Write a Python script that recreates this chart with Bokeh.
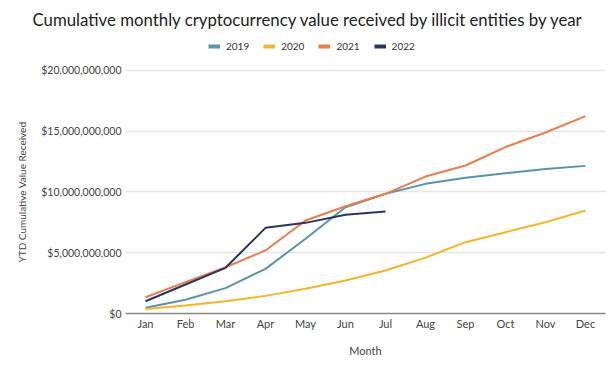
from bokeh.plotting import figure
from bokeh.models import (FactorRange, Range1d, FixedTicker, NumeralTickFormatter,
                          Legend, LegendItem, Title)
from bokeh.embed import file_html
from bokeh.resources import INLINE

months = ["Jan", "Feb", "Mar", "Apr", "May", "Jun", "Jul", "Aug", "Sep", "Oct", "Nov", "Dec"]
v2019 = [0.47e9, 1.13e9, 2.09e9, 3.67e9, 6.15e9, 8.75e9, 9.85e9, 10.67e9, 11.17e9, 11.55e9, 11.9e9, 12.15e9]
v2020 = [0.38e9, 0.66e9, 1.01e9, 1.45e9, 2.03e9, 2.72e9, 3.54e9, 4.6e9, 5.87e9, 6.69e9, 7.51e9, 8.48e9]
v2021 = [1.34e9, 2.58e9, 3.81e9, 5.19e9, 7.65e9, 8.83e9, 9.85e9, 11.27e9, 12.18e9, 13.7e9, 14.9e9, 16.24e9]
v2022 = [1.01e9, 2.39e9, 3.76e9, 7.05e9, 7.46e9, 8.12e9, 8.39e9]
y_ticks = [0, 5e9, 10e9, 15e9, 20e9]

series = [("2019", v2019, "#5b93a8"), ("2020", v2020, "#f1b62b"),
          ("2021", v2021, "#ea7d4e"), ("2022", v2022, "#293660")]

FONT = "Lato"
TXT = "#444444"

p = figure(width=616, height=366, x_range=FactorRange(*months), y_range=Range1d(0, 22.88e9),
           output_backend="svg", toolbar_location=None, title=None,
           min_border_left=125, min_border_right=11, min_border_bottom=53, min_border_top=35)
p.outline_line_color = None
p.background_fill_color = "white"

items = []
for name, vals, col in series:
    p.line(months[:len(vals)], vals, line_color=col, line_width=2)
    proxy = p.line(months[:1], vals[:1], line_color=col, line_width=4)
    items.append(LegendItem(label=name, renderers=[proxy]))

legend = Legend(items=items, orientation="horizontal", location=(83, 261),
                label_text_font=FONT, label_text_font_size="10px", label_text_color="#333333",
                glyph_width=12, glyph_height=10, spacing=14, label_standoff=6,
                border_line_color=None, background_fill_alpha=0, padding=2, margin=0)
p.add_layout(legend, "center")

t = Title(text="Cumulative monthly cryptocurrency value received by illicit entities by year",
          align="left", offset=-93, text_font=FONT, text_font_size="16.8px", text_font_style="normal",
          text_color="#222222", standoff=12)
p.add_layout(t, "above")

ylab = Title(text="YTD Cumulative Value Received", align="left", offset=51,
             text_font=FONT, text_font_size="10px", text_font_style="normal",
             text_color=TXT, standoff=22)
p.add_layout(ylab, "left")

p.yaxis.ticker = FixedTicker(ticks=y_ticks)
p.yaxis.formatter = NumeralTickFormatter(format="$0,0")
p.yaxis.axis_line_color = None
p.yaxis.major_tick_line_color = None
p.yaxis.minor_tick_line_color = None
p.yaxis.major_tick_out = 0
p.yaxis.major_label_standoff = 4
p.yaxis.major_label_text_font = FONT
p.yaxis.major_label_text_font_size = "10.5px"
p.yaxis.major_label_text_color = TXT

p.xaxis.axis_line_color = "#888888"
p.xaxis.axis_line_width = 1.5
p.xaxis.major_tick_line_color = None
p.xaxis.minor_tick_line_color = None
p.xaxis.major_tick_out = 0
p.xaxis.major_label_standoff = 3
p.xaxis.major_label_text_font = FONT
p.xaxis.major_label_text_font_size = "11px"
p.xaxis.major_label_text_color = TXT
p.xaxis.axis_label = "Month"
p.xaxis.axis_label_text_font = FONT
p.xaxis.axis_label_text_font_size = "11px"
p.xaxis.axis_label_text_font_style = "normal"
p.xaxis.axis_label_text_color = TXT
p.xaxis.axis_label_standoff = 11

p.xgrid.grid_line_color = None
p.ygrid.grid_line_color = "#e6e6e6"
p.ygrid.grid_line_width = 1.5

open("out.html", "w").write(file_html(p, INLINE))
